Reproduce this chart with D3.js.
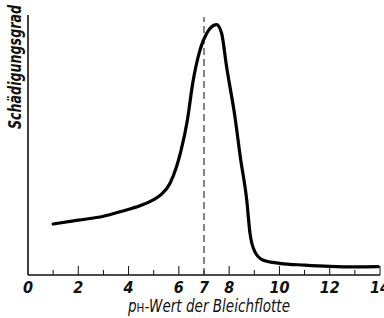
<!DOCTYPE html>
<html>
<head>
<meta charset="utf-8">
<script src="https://cdn.jsdelivr.net/npm/d3@7"></script>
<style>
  body { margin: 0; background: #fff; }
  text { font-family: "DejaVu Sans", sans-serif; font-style: italic; font-stretch: condensed; fill: #111; }
</style>
</head>
<body>
<div id="chart"></div>
<script>
// Set dimensions
const width = 384,
      height = 318;

const margin = {top: 15, right: 4, bottom: 43, left: 28};

// Data (damage in arbitrary units 0..100)
const phValues = [1, 2, 3, 3.66, 4.5, 4.98, 5.3, 5.65, 5.91, 6.09, 6.34, 6.55, 6.84, 7.11, 7.5, 7.7, 7.9, 8.23, 8.45, 8.7, 8.83, 9.03, 9.36, 10.02, 11, 12, 13, 13.93];
const damage   = [19.6, 21.1, 22.6, 24.3, 26.8, 28.9, 31, 35.3, 41.7, 48, 59.6, 73.7, 86.5, 93, 96.3, 93, 80, 60.9, 45, 28.8, 16, 8.8, 5.7, 4.5, 3.8, 3.3, 3.1, 3.2];
const tickLabels = [0, 2, 4, 6, 7, 8, 10, 12, 14];
const neutralPh = 7;

const svg = d3.select("#chart")
  .append("svg")
  .attr("width", width)
  .attr("height", height);

const x = d3.scaleLinear().domain([0, 14]).range([margin.left, width - margin.right]);
const y = d3.scaleLinear().domain([0, 100]).range([height - margin.bottom, margin.top]);

// Axes
svg.append("line")
  .attr("x1", x(0)).attr("x2", x(0))
  .attr("y1", y(0)).attr("y2", y(100))
  .attr("stroke", "#111").attr("stroke-width", 1.6);

svg.append("line")
  .attr("x1", x(0)).attr("x2", x(14))
  .attr("y1", y(0)).attr("y2", y(0))
  .attr("stroke", "#111").attr("stroke-width", 1.6);

// Ticks pointing up, longer on even values
svg.selectAll(".tick")
  .data(d3.range(1, 15))
  .enter()
  .append("line")
  .attr("x1", d => x(d)).attr("x2", d => x(d))
  .attr("y1", y(0))
  .attr("y2", d => y(0) - (d % 2 === 0 ? 9 : 5))
  .attr("stroke", "#111").attr("stroke-width", 1);

// Tick labels
svg.selectAll(".tlabel")
  .data(tickLabels)
  .enter()
  .append("text")
  .attr("x", d => x(d))
  .attr("y", y(0) + 18)
  .attr("text-anchor", "middle")
  .style("font-size", "16px")
  .style("font-weight", "bold")
  .text(d => d);

// Dashed line at pH 7
svg.append("line")
  .attr("x1", x(neutralPh)).attr("x2", x(neutralPh))
  .attr("y1", y(0)).attr("y2", 17)
  .attr("stroke", "#222").attr("stroke-width", 1.1)
  .attr("stroke-dasharray", "7,4");

// Curve
const line = d3.line()
  .x((d, i) => x(phValues[i]))
  .y(d => y(d))
  .curve(d3.curveMonotoneX);

svg.append("path")
  .datum(damage)
  .attr("d", line)
  .attr("fill", "none")
  .attr("stroke", "#000")
  .attr("stroke-width", 3.2)
  .attr("stroke-linecap", "round");

// Axis titles
const xt = svg.append("text")
  .attr("x", 209)
  .attr("y", 312)
  .attr("text-anchor", "middle")
  .attr("textLength", 162)
  .attr("lengthAdjust", "spacingAndGlyphs")
  .style("font-size", "17px");
xt.append("tspan").text("p");
xt.append("tspan").style("font-size", "13px").style("font-style", "normal").text("H");
xt.append("tspan").text("-Wert der Bleichflotte");

svg.append("text")
  .attr("transform", "translate(21, 67) rotate(-90)")
  .attr("text-anchor", "middle")
  .attr("textLength", 124)
  .attr("lengthAdjust", "spacingAndGlyphs")
  .style("font-size", "17px")
  .style("font-weight", "bold")
  .text("Schädigungsgrad");
</script>
</body>
</html>
